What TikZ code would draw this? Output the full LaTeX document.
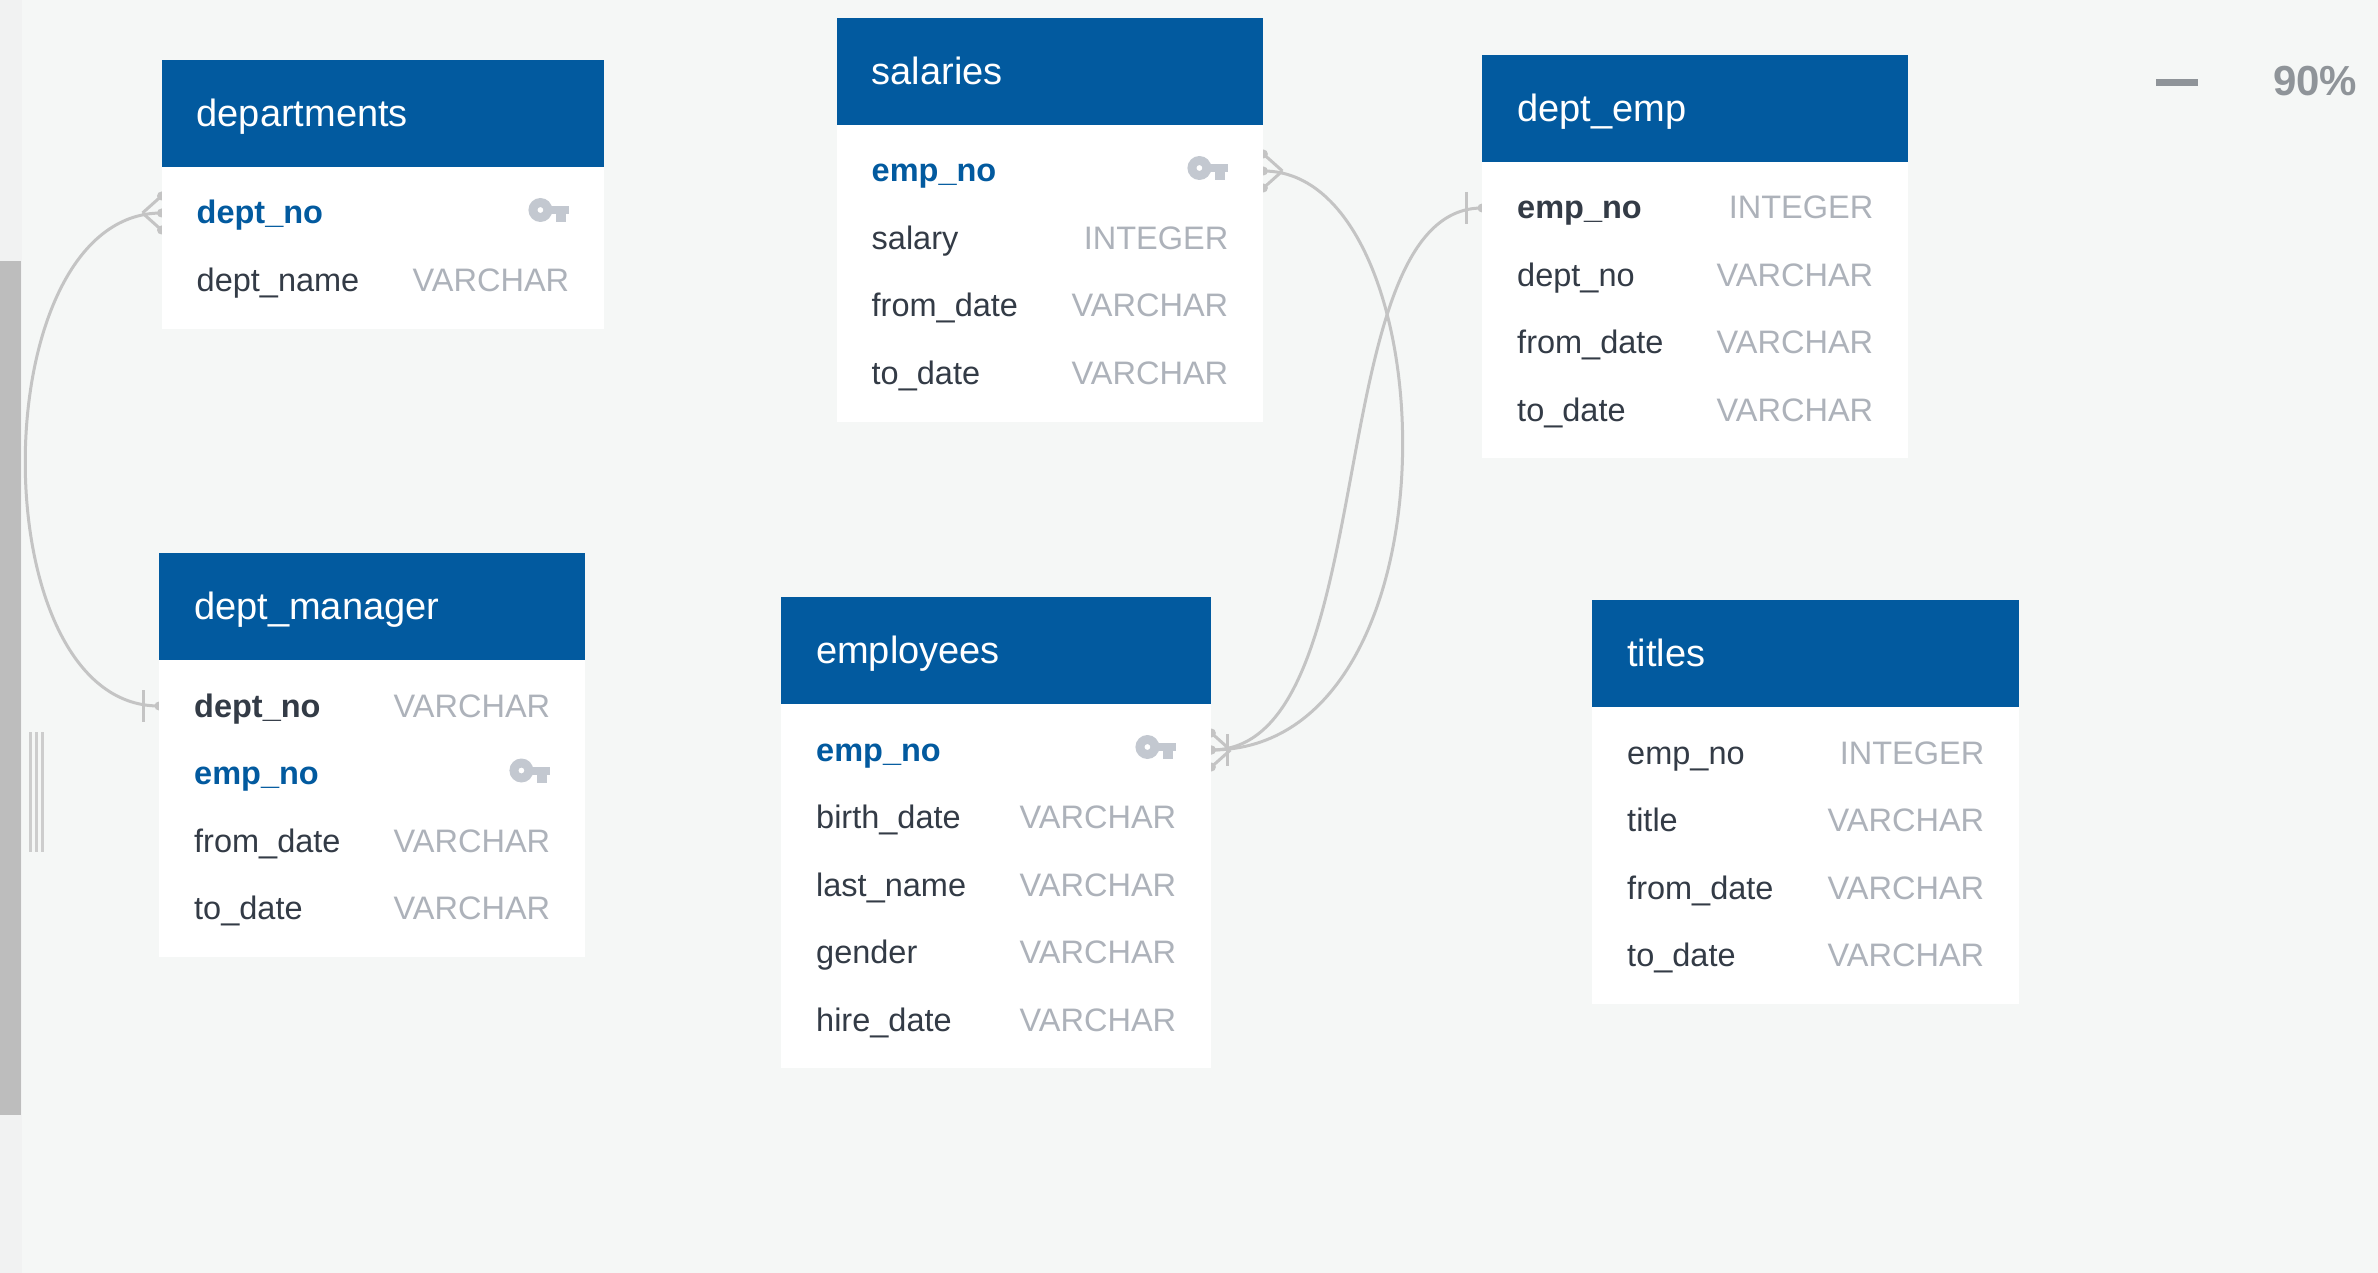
\documentclass[tikz,border=0pt]{standalone}
\usepackage{fontspec}
\setmainfont{Liberation Sans}
\usetikzlibrary{backgrounds}
\definecolor{pagebg}{HTML}{F5F7F6}
\definecolor{stripbg}{HTML}{F1F2F2}
\definecolor{thumb}{HTML}{BDBDBD}
\definecolor{grip}{HTML}{CDCDCD}
\definecolor{headblue}{HTML}{025A9F}
\definecolor{namedark}{HTML}{333B46}
\definecolor{typegrey}{HTML}{ADB2BA}
\definecolor{keygrey}{HTML}{C3C8D0}
\definecolor{linkgrey}{HTML}{C4C4C4}
\definecolor{zoomgrey}{HTML}{8F9499}
\tikzset{
  x=1pt,y=-1pt,
  tablehead/.style={fill=headblue,text=white,anchor=north west,inner xsep=35pt,inner ysep=0pt,
    minimum height=107pt,align=left,text height=35pt,text depth=9pt,
    font=\fontsize{38}{38}\selectfont},
  tablebody/.style={fill=white,anchor=north west,inner sep=0pt},
  rowcell/.style={anchor=west,inner xsep=35pt,inner ysep=0pt,minimum height=67.5pt,align=left,
    text height=30pt,text depth=8pt,text=namedark,font=\fontsize{32.5}{32.5}\selectfont},
  typecell/.style={anchor=east,inner xsep=35pt,inner ysep=0pt,
    text height=30pt,text depth=8pt,text=typegrey,font=\fontsize{32.5}{32.5}\selectfont},
  pkname/.style={text=headblue,font=\fontsize{32.5}{32.5}\selectfont\bfseries},
  fkname/.style={text=namedark,font=\fontsize{32.5}{32.5}\selectfont\bfseries},
  plainname/.style={},
  link/.style={draw=linkgrey,line width=3pt},
  keyicon/.pic={
    \fill[keygrey,even odd rule] (-29,-3) circle[radius=12] (-29,-3) circle[radius=3];
    \fill[keygrey] (-24,-7) rectangle (0,1);
    \fill[keygrey] (-13,1) rectangle (-3,9);
  },
  crowfoot/.pic={
    \draw[link] (19,0) -- (0,-17) (19,0) -- (0,17);
    \fill[linkgrey] (0,-17) circle[radius=4.5] (0,0) circle[radius=4.5] (0,17) circle[radius=4.5];
  },
  onebar/.pic={
    \draw[link] (16,-16) -- (16,16);
    \fill[linkgrey] (0,0) circle[radius=4.5];
  },
}
% \ertable{id}{title}{x}{y}{width}{bottom}
\newcommand\ertable[6]{%
  \pgfmathsetmacro\tabh{#6-#4}%
  \node[tablebody,minimum width=#5pt,minimum height=\tabh pt] (#1-body) at (#3,#4) {};
  \pgfmathsetmacro\tabt{#5-70}%
  \node[tablehead,minimum width=#5pt,text width=\tabt pt] (#1) at (#3,#4) {#2};
}
% \erfield{id}{x}{rowcentre}{width}{namestyle}{name}{type}
\newcommand\erfield[7]{%
  \pgfmathsetmacro\tabt{#4-70}%
  \node[rowcell,#5,minimum width=#4pt,text width=\tabt pt] (#1) at (#2,#3) {#6};
  \node[typecell] (#1-type) at (#1.east) {#7};
}
\begin{document}
\begin{tikzpicture}
\useasboundingbox (0,0) rectangle (2378,1273);

% departments
\ertable{departments}{departments}{161.5}{60}{442.5}{329}
\erfield{dep1}{161.5}{213}{442.5}{pkname}{dept\_no}{}
\erfield{dep2}{161.5}{280.5}{442.5}{plainname}{dept\_name}{VARCHAR}
\pic at ([xshift=-35pt]dep1.east) {keyicon};

% salaries
\ertable{salaries}{salaries}{836.5}{18}{426.5}{422}
\erfield{sal1}{836.5}{171}{426.5}{pkname}{emp\_no}{}
\erfield{sal2}{836.5}{238.5}{426.5}{plainname}{salary}{INTEGER}
\erfield{sal3}{836.5}{306}{426.5}{plainname}{from\_date}{VARCHAR}
\erfield{sal4}{836.5}{373.5}{426.5}{plainname}{to\_date}{VARCHAR}
\pic at ([xshift=-35pt]sal1.east) {keyicon};

% dept_emp
\ertable{deptemp}{dept\_emp}{1482}{55}{426}{458}
\erfield{dem1}{1482}{208}{426}{fkname}{emp\_no}{INTEGER}
\erfield{dem2}{1482}{275.5}{426}{plainname}{dept\_no}{VARCHAR}
\erfield{dem3}{1482}{343}{426}{plainname}{from\_date}{VARCHAR}
\erfield{dem4}{1482}{410.5}{426}{plainname}{to\_date}{VARCHAR}

% dept_manager
\ertable{deptmanager}{dept\_manager}{159}{552.5}{426}{957}
\erfield{mgr1}{159}{706}{426}{fkname}{dept\_no}{VARCHAR}
\erfield{mgr2}{159}{773.5}{426}{pkname}{emp\_no}{}
\erfield{mgr3}{159}{841}{426}{plainname}{from\_date}{VARCHAR}
\erfield{mgr4}{159}{908.5}{426}{plainname}{to\_date}{VARCHAR}
\pic at ([xshift=-35pt]mgr2.east) {keyicon};

% employees
\ertable{employees}{employees}{781}{596.5}{430}{1068}
\erfield{emp1}{781}{750}{430}{pkname}{emp\_no}{}
\erfield{emp2}{781}{817.5}{430}{plainname}{birth\_date}{VARCHAR}
\erfield{emp3}{781}{885}{430}{plainname}{last\_name}{VARCHAR}
\erfield{emp4}{781}{952.5}{430}{plainname}{gender}{VARCHAR}
\erfield{emp5}{781}{1020}{430}{plainname}{hire\_date}{VARCHAR}
\pic at ([xshift=-35pt]emp1.east) {keyicon};

% titles
\ertable{titles}{titles}{1592}{599.5}{427}{1004}
\erfield{tit1}{1592}{753}{427}{plainname}{emp\_no}{INTEGER}
\erfield{tit2}{1592}{820.5}{427}{plainname}{title}{VARCHAR}
\erfield{tit3}{1592}{888}{427}{plainname}{from\_date}{VARCHAR}
\erfield{tit4}{1592}{955.5}{427}{plainname}{to\_date}{VARCHAR}

% zoom control
\node[anchor=base west,inner sep=0pt,text=zoomgrey,font=\fontsize{42}{42}\selectfont\bfseries] (zoomlabel) at (2273,96) {90\%};
\fill[zoomgrey] (2156,79) rectangle (2198,86);

\begin{scope}[on background layer]
  \fill[pagebg] (0,0) rectangle (2378,1273);
  \fill[stripbg] (0,0) rectangle (22,1273);
  \fill[thumb] (0,261) rectangle (21,1115);
  \fill[grip] (29,732) rectangle (32.3,852);
  \fill[grip] (35.3,732) rectangle (37.7,852);
  \fill[grip] (40.7,732) rectangle (44,852);
  % connectors
  \draw[link] (dep1.west) .. controls +(-180,0) and +(-180,0) .. (mgr1.west);
  \draw[link] (sal1.east) .. controls +(185,0) and +(255,0) .. (emp1.east);
  \draw[link] (dem1.west) .. controls +(-165,0) and +(175,0) .. (emp1.east);
  % end markers
  \pic[xscale=-1] at (dep1.west) {crowfoot};
  \pic at (sal1.east) {crowfoot};
  \pic at (emp1.east) {crowfoot};
  \pic at (emp1.east) {onebar};
  \pic[xscale=-1] at (mgr1.west) {onebar};
  \pic[xscale=-1] at (dem1.west) {onebar};
\end{scope}
\end{tikzpicture}
\end{document}
